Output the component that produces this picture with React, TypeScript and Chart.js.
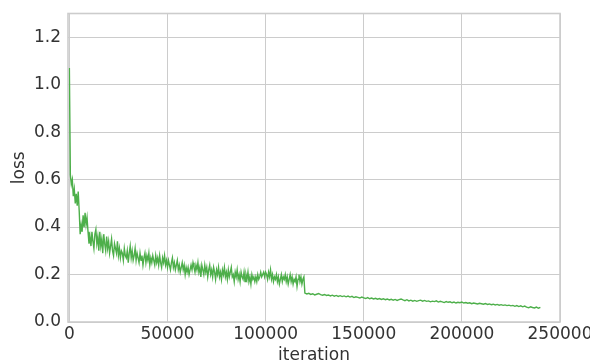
import React, { useEffect, useRef } from "react";
import { Chart, registerables } from "chart.js";

Chart.register(...registerables);

// Phase 1: loss every 500 iterations from 0 to 119500
const phase1Step = 500;
const phase1Loss: number[] = [
  1.07, 0.62, 0.58, 0.60, 0.53, 0.56, 0.50, 0.54, 0.49, 0.55,
  0.47, 0.37, 0.41, 0.38, 0.45, 0.40, 0.46, 0.41, 0.44, 0.38,
  0.33, 0.36, 0.32, 0.38, 0.34, 0.31, 0.37, 0.39, 0.33, 0.36,
  0.30, 0.38, 0.32, 0.35, 0.29, 0.37, 0.33, 0.30, 0.36, 0.31,
  0.34, 0.29, 0.32, 0.35, 0.30, 0.28, 0.33, 0.31, 0.29, 0.34,
  0.28, 0.31, 0.27, 0.30, 0.29, 0.26, 0.31, 0.28, 0.27, 0.30,
  0.25, 0.29, 0.32, 0.27, 0.30, 0.26, 0.28, 0.31, 0.26, 0.29,
  0.27, 0.25, 0.29, 0.26, 0.28, 0.24, 0.27, 0.29, 0.25, 0.28,
  0.26, 0.29, 0.24, 0.27, 0.25, 0.28, 0.26, 0.24, 0.28, 0.25,
  0.27, 0.24, 0.28, 0.25, 0.23, 0.27, 0.25, 0.28, 0.24, 0.26,
  0.23, 0.26, 0.24, 0.22, 0.25, 0.27, 0.23, 0.25, 0.22, 0.24,
  0.26, 0.22, 0.24, 0.21, 0.23, 0.25, 0.22, 0.24, 0.20, 0.23,
  0.21, 0.23, 0.20, 0.22, 0.24, 0.22, 0.25, 0.23, 0.21, 0.24,
  0.22, 0.25, 0.21, 0.23, 0.19, 0.24, 0.22, 0.20, 0.24, 0.21,
  0.23, 0.19, 0.22, 0.24, 0.20, 0.22, 0.19, 0.23, 0.21, 0.18,
  0.22, 0.20, 0.23, 0.19, 0.21, 0.18, 0.22, 0.20, 0.23, 0.19,
  0.21, 0.18, 0.22, 0.19, 0.21, 0.23, 0.19, 0.20, 0.17, 0.21,
  0.19, 0.22, 0.18, 0.20, 0.17, 0.21, 0.19, 0.18, 0.21, 0.17,
  0.20, 0.18, 0.21, 0.17, 0.19, 0.16, 0.20, 0.18, 0.19, 0.17,
  0.19, 0.17, 0.20, 0.18, 0.19, 0.21, 0.19, 0.20, 0.21, 0.19,
  0.21, 0.20, 0.18, 0.21, 0.19, 0.22, 0.18, 0.20, 0.17, 0.19,
  0.18, 0.20, 0.17, 0.19, 0.16, 0.18, 0.20, 0.17, 0.19, 0.18,
  0.20, 0.17, 0.19, 0.16, 0.18, 0.20, 0.17, 0.19, 0.16, 0.18,
  0.17, 0.19, 0.15, 0.18, 0.20, 0.17, 0.19, 0.16, 0.18, 0.19,
];

// Phase 2: loss every 1000 iterations from 120000 to 240000
const phase2Start = 120000;
const phase2Step = 1000;
const phase2Loss: number[] = [
  0.122, 0.118, 0.121, 0.116, 0.119, 0.114, 0.117, 0.120, 0.115, 0.113,
  0.116, 0.112, 0.114, 0.110, 0.113, 0.109, 0.112, 0.108, 0.111, 0.107,
  0.110, 0.106, 0.109, 0.105, 0.108, 0.103, 0.106, 0.104, 0.101, 0.105,
  0.102, 0.099, 0.103, 0.098, 0.101, 0.097, 0.100, 0.096, 0.099, 0.095,
  0.098, 0.094, 0.097, 0.093, 0.096, 0.092, 0.095, 0.091, 0.094, 0.097,
  0.093, 0.090, 0.094, 0.089, 0.092, 0.088, 0.091, 0.087, 0.090, 0.092,
  0.088, 0.091, 0.087, 0.089, 0.085, 0.088, 0.086, 0.089, 0.084, 0.087,
  0.085, 0.082, 0.086, 0.083, 0.085, 0.081, 0.084, 0.080, 0.083, 0.081,
  0.084, 0.080, 0.082, 0.079, 0.081, 0.077, 0.080, 0.078, 0.076, 0.079,
  0.077, 0.075, 0.078, 0.074, 0.076, 0.073, 0.075, 0.072, 0.074, 0.071,
  0.073, 0.070, 0.072, 0.069, 0.071, 0.068, 0.070, 0.066, 0.069, 0.065,
  0.068, 0.064, 0.067, 0.063, 0.060, 0.064, 0.061, 0.059, 0.063, 0.058,
  0.062,
];

const xTicks = [0, 50000, 100000, 150000, 200000, 250000];
const yTicks = [0.0, 0.2, 0.4, 0.6, 0.8, 1.0, 1.2];

const FONT = "'DejaVu Sans', sans-serif";
const TEXT = "#333333";
const GRID = "#cccccc";
const FS = 17;

const spinesPlugin = {
  id: "spines",
  afterDatasetsDraw(chart: any) {
    const { ctx, chartArea } = chart;
    ctx.save();
    ctx.strokeStyle = GRID;
    ctx.lineWidth = 1.6;
    ctx.strokeRect(
      chartArea.left,
      chartArea.top,
      chartArea.right - chartArea.left,
      chartArea.bottom - chartArea.top
    );
    ctx.restore();
  },
};

export default function App() {
  const ref = useRef<HTMLCanvasElement | null>(null);

  useEffect(() => {
    document.body.style.margin = "0";
    const points = [
      ...phase1Loss.map((v, i) => ({ x: i * phase1Step, y: v })),
      ...phase2Loss.map((v, i) => ({ x: phase2Start + i * phase2Step, y: v })),
    ];
    const chart = new Chart(ref.current as HTMLCanvasElement, {
      type: "line",
      data: {
        datasets: [
          {
            data: points,
            borderColor: "#4daf4a",
            borderWidth: 1.4,
            pointRadius: 0,
            tension: 0,
            fill: false,
          },
        ],
      },
      options: {
        responsive: false,
        animation: false,
        layout: { padding: { left: 0, right: 30, top: 13.5, bottom: 0 } },
        plugins: {
          legend: { display: false },
          tooltip: { enabled: false },
        },
        scales: {
          x: {
            type: "linear",
            min: -700,
            max: 250000,
            afterBuildTicks: (s: any) => {
              s.ticks = xTicks.map((v) => ({ value: v }));
            },
            afterFit: (s: any) => {
              s.height = 38;
              s.paddingLeft = 0;
              s.paddingRight = 0;
            },
            grid: { color: GRID, lineWidth: 1, drawTicks: false },
            border: { display: false },
            ticks: {
              autoSkip: false,
              maxRotation: 0,
              padding: 2,
              color: TEXT,
              font: { family: FONT, size: FS },
              callback: (v: any) => String(v),
            },
            title: {
              display: true,
              text: "iteration",
              color: TEXT,
              font: { family: FONT, size: FS, lineHeight: 1 },
              padding: { top: 0, bottom: -4.5 },
            },
          },
          y: {
            type: "linear",
            min: 0,
            max: 1.3,
            afterBuildTicks: (s: any) => {
              s.ticks = yTicks.map((v) => ({ value: v }));
            },
            afterFit: (s: any) => {
              s.width = 68;
              s.paddingTop = 0;
              s.paddingBottom = 0;
            },
            grid: { color: GRID, lineWidth: 1, drawTicks: false },
            border: { display: false },
            ticks: {
              padding: 7,
              color: TEXT,
              font: { family: FONT, size: FS },
              callback: (v: any) => Number(v).toFixed(1),
            },
            title: {
              display: true,
              text: "loss",
              color: TEXT,
              font: { family: FONT, size: FS, lineHeight: 1 },
              padding: { top: 11.5, bottom: 0 },
            },
          },
        },
      },
      plugins: [spinesPlugin],
    });
    return () => chart.destroy();
  }, []);

  return (
    <div style={{ position: "fixed", left: 0, top: 0, width: 590, height: 360 }}>
      <canvas ref={ref} width={590} height={360} style={{ display: "block" }} />
    </div>
  );
}
